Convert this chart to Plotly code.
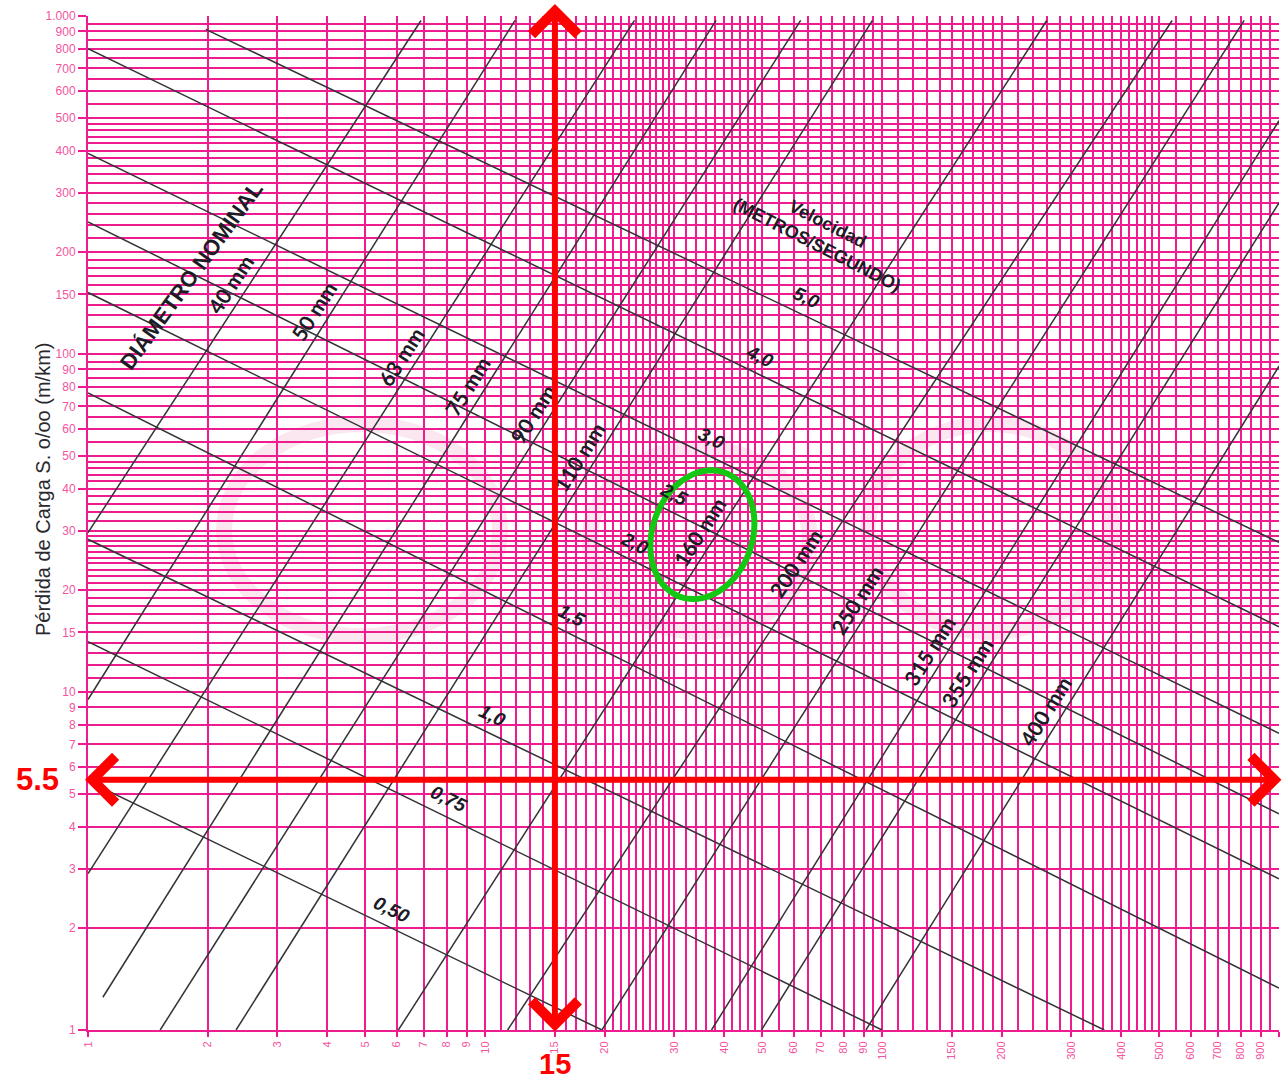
import numpy as np
import plotly.graph_objects as go

# ---------------- axis ticks (caudal / pérdida de carga) ----------------
tick_vals = [1, 2, 3, 4, 5, 6, 7, 8, 9, 10, 15, 20, 30, 40, 50, 60, 70, 80, 90,
             100, 150, 200, 300, 400, 500, 600, 700, 800, 900, 1000]
x_tick_text = ["1", "2", "3", "4", "5", "6", "7", "8", "9", "10", "15", "20", "30",
               "40", "50", "60", "70", "80", "90", "100", "150", "200", "300", "400",
               "500", "600", "700", "800", "900", "1.000"]
y_tick_text = ["1", "2", "3", "4", "5", "6", "7", "8", "9", "10", "15", "20", "30",
               "40", "50", "60", "70", "80", "90", "100", "150", "200", "300", "400",
               "500", "600", "700", "800", "900", "1.000"]

# dense paper-style grid
grid_vals = sorted(set(
    list(range(1, 30)) + list(range(30, 50, 2)) + list(range(50, 100, 5))
    + list(range(100, 200, 10)) + list(range(200, 500, 20)) + list(range(500, 1001, 50))))

# ---------------- diámetro nominal lines ----------------
diam_labels = ["40 mm", "50 mm", "63 mm", "75 mm", "90 mm", "110 mm",
               "160 mm", "200 mm", "250 mm", "315 mm", "355 mm", "400 mm"]
diam_q_start = [1, 1, 1, 1.09, 1.52, 2.36, 6.05, 11.4, 19.7, 37.2, 49.7, 91.1]
diam_s_start = [29.6, 9.5, 2.9, 1.25, 1, 1, 1, 1, 1, 1, 1, 1]
diam_q_end = [6.9, 11.9, 23.8, 38.2, 62.4, 94.6, 260, 538, 817, 1000, 1000, 1000]
diam_s_end = [970, 970, 970, 970, 970, 970, 970, 970, 970, 490, 280, 92]
# pérdida de carga at which each diameter label sits
diam_label_s = [152, 127, 93, 76, 63, 47, 28.1, 22.7, 17.7, 12.5, 10.8, 8.3]

# ---------------- velocidad lines (m/s) ----------------
vel_labels = ["0,50", "0,75", "1,0", "1,5", "2,0", "2,5", "3,0", "4,0", "5,0"]
vel_q_start = [1, 1, 1, 1, 1, 1, 1, 1, 1.98]
vel_s_start = [5.45, 14.1, 28.3, 76.7, 152, 246, 392, 800, 913]
vel_q_end = [19.7, 100, 363, 1000, 1000, 1000, 1000, 1000, 1000]
vel_s_end = [1, 1, 1, 1.33, 2.8, 4.36, 7.55, 15.6, 27.7]
# caudal at which each velocity label sits
vel_label_q = [5.57, 7.73, 10, 15.8, 22.9, 28.7, 35.7, 47.3, 61.7]

# reading marked on the chart
sel_q = 15
sel_s = 5.5

PINK = "rgb(238,28,142)"
TICK_PINK = "rgb(242,84,160)"
LINE = "rgb(50,50,55)"
TXT = "rgb(28,28,38)"

# figure geometry
W, H = 1283, 1083
ML, MR, MT, MB = 88, 4, 16, 53
PW, PH = W - ML - MR, H - MT - MB
DEC_X, DEC_Y = PW / 3.0, PH / 3.0   # pixels per decade


def seg_xy(q0, s0, q1, s1):
    xs, ys = [], []
    for a, b, c, d in zip(q0, s0, q1, s1):
        xs += [a, c, None]
        ys += [b, d, None]
    return xs, ys


fig = go.Figure()

dx, dy = seg_xy(diam_q_start, diam_s_start, diam_q_end, diam_s_end)
fig.add_trace(go.Scatter(x=dx, y=dy, mode="lines", line=dict(color=LINE, width=1.5),
                         hoverinfo="skip", showlegend=False))
vx, vy = seg_xy(vel_q_start, vel_s_start, vel_q_end, vel_s_end)
fig.add_trace(go.Scatter(x=vx, y=vy, mode="lines", line=dict(color=LINE, width=1.5),
                         hoverinfo="skip", showlegend=False))

annotations = []
shapes = []


def line_geom(q0, s0, q1, s1):
    lx0, ly0, lx1, ly1 = np.log10(q0), np.log10(s0), np.log10(q1), np.log10(s1)
    ang = np.arctan2((ly1 - ly0) * DEC_Y, (lx1 - lx0) * DEC_X)
    return lx0, ly0, lx1, ly1, ang


label_pos = {}
GAP = 16
# diameter labels, placed on the left side of their line
for i, name in enumerate(diam_labels):
    lx0, ly0, lx1, ly1, ang = line_geom(diam_q_start[i], diam_s_start[i],
                                        diam_q_end[i], diam_s_end[i])
    ly = np.log10(diam_label_s[i])
    t = (ly - ly0) / (ly1 - ly0)
    lx = lx0 + t * (lx1 - lx0)
    xs, ys = -np.sin(ang) * GAP, np.cos(ang) * GAP
    label_pos[name] = (lx, ly, xs, ys)
    annotations.append(dict(x=lx, y=ly, xref="x", yref="y", text=name, showarrow=False,
                            textangle=-np.degrees(ang), xshift=xs, yshift=ys,
                            font=dict(family="Lato", size=21, color=TXT, weight="bold")))

# velocity labels, placed above their line
for i, name in enumerate(vel_labels):
    lx0, ly0, lx1, ly1, ang = line_geom(vel_q_start[i], vel_s_start[i],
                                        vel_q_end[i], vel_s_end[i])
    lx = np.log10(vel_label_q[i])
    t = (lx - lx0) / (lx1 - lx0)
    ly = ly0 + t * (ly1 - ly0)
    xs, ys = -np.sin(ang) * (GAP + 1), np.cos(ang) * (GAP + 1)
    annotations.append(dict(x=lx, y=ly, xref="x", yref="y", text=name, showarrow=False,
                            textangle=-np.degrees(ang), xshift=xs, yshift=ys,
                            font=dict(family="Liberation Sans", size=19, color=TXT,
                                      weight="bold", style="italic")))

# block titles
annotations.append(dict(x=np.log10(1.82), y=np.log10(171), xref="x", yref="y",
                        text="DIÁMETRO NOMINAL", showarrow=False, textangle=-54,
                        font=dict(family="Liberation Sans", size=22, color=TXT, weight="bold")))
annotations.append(dict(x=np.log10(71), y=np.log10(226), xref="x", yref="y",
                        text="Velocidad<br>(METROS/SEGUNDO)", showarrow=False, textangle=27,
                        font=dict(family="Liberation Sans", size=18, color=TXT, weight="bold")))

# y-axis title
annotations.append(dict(x=(30 - ML) / PW, y=(H - MB - 490) / PH, xref="paper", yref="paper",
                        text="Pérdida de Carga S. o/oo (m/km)", showarrow=False, textangle=-90,
                        font=dict(family="Liberation Sans", size=20, color="rgb(40,40,45)")))

# red double arrows marking the reading
RED = "rgb(255,0,0)"
top_tip = 1 + 12 / PH
annotations.append(dict(x=np.log10(sel_q), y=top_tip, xref="x", yref="paper",
                        ax=0, ay=PH * top_tip + 3, text="", showarrow=True,
                        arrowhead=4, startarrowhead=4, arrowside="end+start",
                        arrowsize=1.5, startarrowsize=1.5, arrowwidth=6, arrowcolor=RED))
annotations.append(dict(x=-3 / PW, y=np.log10(sel_s), xref="paper", yref="y",
                        ax=PW + 7, ay=0, text="", showarrow=True,
                        arrowhead=4, startarrowhead=4, arrowside="end+start",
                        arrowsize=1.5, startarrowsize=1.5, arrowwidth=6, arrowcolor=RED))
annotations.append(dict(x=np.log10(sel_q), y=-34 / PH, xref="x", yref="paper", text="<b>15</b>",
                        showarrow=False, yanchor="middle",
                        font=dict(family="Liberation Sans", size=29, color=RED)))
annotations.append(dict(x=-51 / PW, y=np.log10(sel_s), xref="paper", yref="y", text="<b>5.5</b>",
                        showarrow=False, xanchor="center",
                        font=dict(family="Liberation Sans", size=31, color=RED)))

# green ellipse around the 160 mm label
lx, ly, xs, ys = label_pos["160 mm"]
cx = lx / 3 + (xs + 3) / PW
cy = ly / 3 + (ys - 3) / PH
tilt = np.radians(19.5)
a_ax, b_ax = 66, 50
tt = np.linspace(0, 2 * np.pi, 73)
major = np.array([np.sin(tilt), np.cos(tilt)])
minor = np.array([np.cos(tilt), -np.sin(tilt)])
ex = a_ax * np.cos(tt) * major[0] + b_ax * np.sin(tt) * minor[0]
ey = a_ax * np.cos(tt) * major[1] + b_ax * np.sin(tt) * minor[1]
path = "M " + " L ".join(f"{cx + u / PW:.5f},{cy + v / PH:.5f}" for u, v in zip(ex, ey)) + " Z"
shapes.append(dict(type="path", path=path, xref="paper", yref="paper",
                   line=dict(color="rgb(18,200,18)", width=6), layer="above"))

# faint watermark behind the grid
WM = "rgba(248,208,226,0.5)"
for (pcx, pcy, rx, ry) in [(362, 530, 138, 106), (700, 540, 110, 92), (990, 528, 122, 104)]:
    shapes.append(dict(type="circle", xref="paper", yref="paper",
                       x0=(pcx - rx - ML) / PW, x1=(pcx + rx - ML) / PW,
                       y0=(H - MB - pcy - ry) / PH, y1=(H - MB - pcy + ry) / PH,
                       line=dict(color=WM, width=16), layer="below"))

axis_common = dict(type="log", range=[0, 3], tickmode="array", tickvals=tick_vals,
                   ticks="outside", tickcolor=PINK, tickwidth=1.5,
                   showgrid=True, gridcolor=PINK, gridwidth=1.6,
                   showline=True, linecolor=PINK, linewidth=2, zeroline=False,
                   minor=dict(tickmode="array", tickvals=grid_vals, showgrid=True,
                              gridcolor=PINK, gridwidth=1.6, ticks=""))

fig.update_layout(
    width=W, height=H,
    margin=dict(l=ML, r=MR, t=MT, b=MB),
    paper_bgcolor="white", plot_bgcolor="white",
    showlegend=False,
    xaxis=dict(axis_common, ticktext=x_tick_text, tickangle=-90, ticklen=5,
               tickfont=dict(family="Liberation Sans", size=11, color=TICK_PINK)),
    yaxis=dict(axis_common, ticktext=y_tick_text, ticklen=8,
               tickfont=dict(family="Liberation Sans", size=12, color=TICK_PINK)),
    annotations=annotations,
    shapes=shapes,
)

fig.write_html("out.html")
